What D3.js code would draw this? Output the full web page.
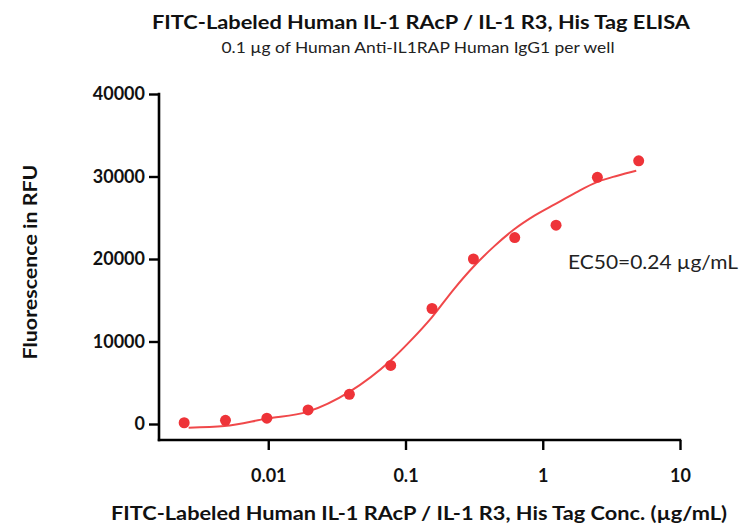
<!DOCTYPE html>
<html>
<head>
<meta charset="utf-8">
<script src="https://cdn.jsdelivr.net/npm/d3@7"></script>
<style>
  html, body { margin: 0; padding: 0; background: #fff; }
  svg { display: block; }
</style>
</head>
<body>
<svg id="chart" width="745" height="529"></svg>
<script>
// ---- data ----
const concentrations = [0.00244, 0.00488, 0.00977, 0.0195, 0.039, 0.078, 0.156, 0.3125, 0.625, 1.25, 2.5, 5];
const fluorescence   = [150, 450, 700, 1700, 3600, 7100, 14000, 20000, 22600, 24100, 29900, 31900];
// fitted curve
const curveConc  = [0.00263, 0.0048, 0.0097, 0.0194, 0.039, 0.078, 0.109, 0.155, 0.224, 0.31, 0.44, 0.62, 0.87, 1.23, 1.74, 2.5, 3.5, 4.8];
const curveValue = [-450, -250, 650, 1500, 3900, 7700, 10100, 12900, 16300, 19000, 21500, 23600, 25250, 26650, 28050, 29350, 30100, 30700];
const xTicks = [0.01, 0.1, 1, 10];
const xTickLabels = ["0.01", "0.1", "1", "10"];
const yTicks = [0, 10000, 20000, 30000, 40000];
const title = "FITC-Labeled Human IL-1 RAcP / IL-1 R3, His Tag ELISA";
const subtitle = "0.1 \u00b5g of Human Anti-IL1RAP Human IgG1 per well";
const xTitle = "FITC-Labeled Human IL-1 RAcP / IL-1 R3, His Tag Conc. (\u00b5g/mL)";
const yTitle = "Fluorescence in RFU";
const annotation = "EC50=0.24 \u00b5g/mL";

(function () {
// ---- layout ----
const svg = d3.select("#chart");
const pLeft = 159, pRight = 680, pTop = 94, pBottom = 424, axisY = 440;
const font = "Lato, 'Open Sans', sans-serif";

const x = d3.scaleLog().domain([Math.pow(10, -2.796), 10]).range([pLeft, pRight]);
const y = d3.scaleLinear().domain([0, 40000]).range([pBottom, pTop]);

// titles
svg.append("text").attr("x", 421).attr("y", 29).attr("text-anchor", "middle")
  .attr("font-family", font).attr("font-weight", "bold").attr("font-size", 19)
  .attr("textLength", 538).attr("lengthAdjust", "spacingAndGlyphs")
  .attr("fill", "#111").text(title);
svg.append("text").attr("x", 418).attr("y", 53).attr("text-anchor", "middle")
  .attr("font-family", font).attr("font-size", 15)
  .attr("textLength", 393).attr("lengthAdjust", "spacingAndGlyphs")
  .attr("fill", "#222").text(subtitle);

// y axis
const yAxis = d3.axisLeft(y).tickValues(yTicks).tickSize(10).tickPadding(4).tickFormat(d3.format("d"));
const gy = svg.append("g").attr("transform", `translate(${pLeft},0)`).call(yAxis);
gy.select(".domain").remove();
gy.append("line").attr("x1", 0).attr("x2", 0).attr("y1", pTop - 1.2).attr("y2", axisY + 1.2)
  .attr("stroke", "#000").attr("stroke-width", 2.6);
gy.selectAll(".tick line").attr("stroke", "#000").attr("stroke-width", 2.4);
gy.selectAll(".tick text").attr("font-family", font).attr("font-weight", "bold")
  .attr("font-size", 18).attr("fill", "#111");

// x axis
const xAxis = d3.axisBottom(x).tickValues(xTicks).tickSize(10).tickPadding(19)
  .tickFormat((d, i) => xTickLabels[i]);
const gx = svg.append("g").attr("transform", `translate(0,${axisY})`).call(xAxis);
gx.select(".domain").remove();
gx.append("line").attr("x1", pLeft - 1.2).attr("x2", pRight + 1.2).attr("y1", 0).attr("y2", 0)
  .attr("stroke", "#000").attr("stroke-width", 2.6);
gx.selectAll(".tick line").attr("stroke", "#000").attr("stroke-width", 2.4);
gx.selectAll(".tick text").attr("font-family", font).attr("font-weight", "bold")
  .attr("font-size", 18).attr("fill", "#111");

// axis titles
svg.append("text").attr("x", 419).attr("y", 520).attr("text-anchor", "middle")
  .attr("font-family", font).attr("font-weight", "bold").attr("font-size", 19)
  .attr("textLength", 616).attr("lengthAdjust", "spacingAndGlyphs")
  .attr("fill", "#111").text(xTitle);
svg.append("text").attr("transform", "translate(37,262) rotate(-90)").attr("text-anchor", "middle")
  .attr("font-family", font).attr("font-weight", "bold").attr("font-size", 19)
  .attr("textLength", 195).attr("lengthAdjust", "spacingAndGlyphs")
  .attr("fill", "#111").text(yTitle);

// fitted curve
const line = d3.line().x((d, i) => x(curveConc[i])).y(d => y(d)).curve(d3.curveMonotoneX);
svg.append("path").datum(curveValue).attr("d", line)
  .attr("fill", "none").attr("stroke", "#F0484A").attr("stroke-width", 2);

// points
svg.append("g").selectAll("circle").data(fluorescence).join("circle")
  .attr("cx", (d, i) => x(concentrations[i])).attr("cy", d => y(d)).attr("r", 5.5)
  .attr("fill", "#EE3338");

// annotation
svg.append("text").attr("x", 568).attr("y", 269)
  .attr("font-family", font).attr("font-size", 19.5)
  .attr("textLength", 170).attr("lengthAdjust", "spacingAndGlyphs")
  .attr("fill", "#222").text(annotation);
})();
</script>
</body>
</html>
